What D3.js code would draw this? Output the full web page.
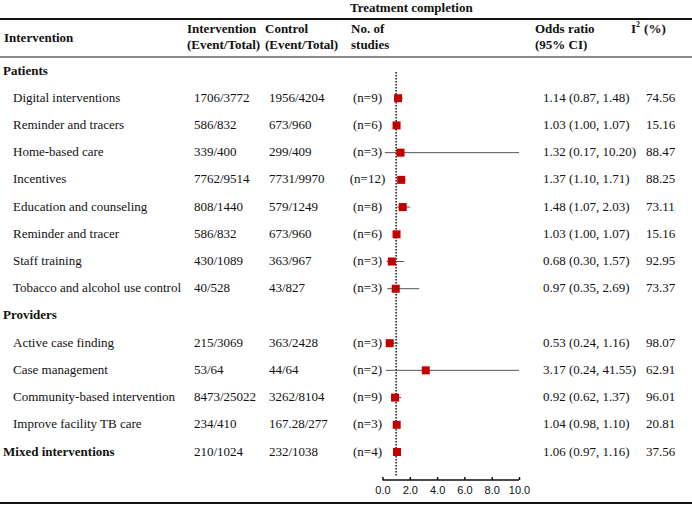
<!DOCTYPE html>
<html>
<head>
<meta charset="utf-8">
<script src="https://cdn.jsdelivr.net/npm/d3@7"></script>
<style>
  body { margin: 0; background: #fff; }
  svg text { font-family: "Liberation Serif", "Times New Roman", serif; font-size: 13px; fill: #111; }
  .bold { font-weight: bold; }
  .tick text { font-family: "Liberation Sans", Arial, sans-serif; font-size: 11px; }
</style>
</head>
<body>
<div id="chart"></div>
<script>
// Row data
var labels = ["Patients", "Digital interventions", "Reminder and tracers", "Home-based care", "Incentives",
  "Education and counseling", "Reminder and tracer", "Staff training", "Tobacco and alcohol use control",
  "Providers", "Active case finding", "Case management", "Community-based intervention",
  "Improve facility TB care", "Mixed interventions"]
// 0 = group heading, 1 = sub item, 2 = bold item with data
var rowType = [0, 1, 1, 1, 1, 1, 1, 1, 1, 0, 1, 1, 1, 1, 2]
var interventionEvents = ["", "1706/3772", "586/832", "339/400", "7762/9514", "808/1440", "586/832", "430/1089", "40/528",
  "", "215/3069", "53/64", "8473/25022", "234/410", "210/1024"]
var controlEvents = ["", "1956/4204", "673/960", "299/409", "7731/9970", "579/1249", "673/960", "363/967", "43/827",
  "", "363/2428", "44/64", "3262/8104", "167.28/277", "232/1038"]
var nStudies = [null, 9, 6, 3, 12, 8, 6, 3, 3, null, 3, 2, 9, 3, 4]
var oddsRatio = [null, 1.14, 1.03, 1.32, 1.37, 1.48, 1.03, 0.68, 0.97, null, 0.53, 3.17, 0.92, 1.04, 1.06]
var ciLow = [null, 0.87, 1.00, 0.17, 1.10, 1.07, 1.00, 0.30, 0.35, null, 0.24, 0.24, 0.62, 0.98, 0.97]
var ciHigh = [null, 1.48, 1.07, 10.20, 1.71, 2.03, 1.07, 1.57, 2.69, null, 1.16, 41.55, 1.37, 1.10, 1.16]
var iSquared = ["", "74.56", "15.16", "88.47", "88.25", "73.11", "15.16", "92.95", "73.37",
  "", "98.07", "62.91", "96.01", "20.81", "37.56"]
var axisTicks = [0, 2, 4, 6, 8, 10]

var width = 692, height = 506

var svg = d3.select("#chart").append("svg")
  .attr("width", width)
  .attr("height", height)

// Scales
var y = d3.scalePoint()
  .domain(d3.range(labels.length))
  .range([70, 451])

var x = d3.scaleLinear()
  .domain([0, 10])
  .range([382.5, 519])
  .clamp(true)

// Rules
svg.append("line").attr("x1", 0).attr("x2", width).attr("y1", 19).attr("y2", 19)
  .attr("stroke", "#111").attr("stroke-width", 2)
svg.append("line").attr("x1", 0).attr("x2", width).attr("y1", 57).attr("y2", 57)
  .attr("stroke", "#8a8a8a").attr("stroke-width", 2)
svg.append("line").attr("x1", 0).attr("x2", width).attr("y1", 503).attr("y2", 503)
  .attr("stroke", "#111").attr("stroke-width", 2)

// Headers
svg.append("text").attr("class", "bold").attr("x", 350).attr("y", 12).text("Treatment completion")
svg.append("text").attr("class", "bold").attr("x", 4).attr("y", 42).text("Intervention")

var headers = [
  {x: 187, lines: ["Intervention", "(Event/Total)"]},
  {x: 265, lines: ["Control", "(Event/Total)"]},
  {x: 351, lines: ["No. of", "studies"]},
  {x: 535, lines: ["Odds ratio", "(95% CI)"]}
]
headers.forEach(function(h) {
  h.lines.forEach(function(l, i) {
    svg.append("text").attr("class", "bold").attr("x", h.x).attr("y", 33 + i * 16).text(l)
  })
})
var i2 = svg.append("text").attr("class", "bold").attr("x", 631).attr("y", 33)
i2.append("tspan").text("I")
i2.append("tspan").attr("dy", -6).style("font-size", "8px").text("2")
i2.append("tspan").attr("dy", 6).attr("dx", 4).text("(%)")

// Rows
var rows = svg.append("g").selectAll("g")
  .data(d3.range(labels.length))
  .enter()
  .append("g")
  .attr("transform", function(i) { return "translate(0," + y(i) + ")" })

rows.append("text")
  .attr("x", function(i) { return rowType[i] == 1 ? 13 : 3 })
  .attr("dy", "0.35em")
  .attr("class", function(i) { return rowType[i] == 1 ? "" : "bold" })
  .text(function(i) { return labels[i] })

rows.append("text").attr("x", 194).attr("dy", "0.35em").text(function(i) { return interventionEvents[i] })
rows.append("text").attr("x", 269).attr("dy", "0.35em").text(function(i) { return controlEvents[i] })
rows.append("text").attr("x", 367.5).attr("dy", "0.35em").attr("text-anchor", "middle")
  .text(function(i) { return nStudies[i] == null ? "" : "(n=" + nStudies[i] + ")" })
rows.append("text").attr("x", 543).attr("dy", "0.35em")
  .text(function(i) {
    return oddsRatio[i] == null ? "" :
      oddsRatio[i].toFixed(2) + " (" + ciLow[i].toFixed(2) + ", " + ciHigh[i].toFixed(2) + ")"
  })
rows.append("text").attr("x", 646).attr("dy", "0.35em").text(function(i) { return iSquared[i] })

// Axis
var axis = svg.append("g")
  .attr("transform", "translate(0,480)")
  .call(d3.axisBottom(x).tickValues(axisTicks).tickFormat(d3.format(".1f")).tickSize(-3).tickPadding(6))
axis.select(".domain").attr("stroke", "#111").attr("stroke-width", 1.5).attr("d", "M" + x(0) + ",0H" + x(10))
axis.selectAll(".tick line").attr("stroke", "#111").attr("stroke-width", 1.5)
axis.selectAll(".tick text").attr("fill", "#111").attr("dy", "0.71em")

// Reference line at OR = 1
svg.append("line")
  .attr("x1", x(1)).attr("x2", x(1))
  .attr("y1", 72).attr("y2", 477)
  .attr("stroke", "#111").attr("stroke-width", 1.5)
  .attr("stroke-dasharray", "1.5,1.5")

// CI lines and markers
var plotRows = d3.range(labels.length).filter(function(i) { return oddsRatio[i] != null })
svg.append("g").selectAll("line")
  .data(plotRows)
  .enter()
  .append("line")
  .attr("x1", function(i) { return x(ciLow[i]) })
  .attr("x2", function(i) { return x(ciHigh[i]) })
  .attr("y1", function(i) { return y(i) + 1 })
  .attr("y2", function(i) { return y(i) + 1 })
  .attr("stroke", "#555")
  .attr("stroke-width", 1)

svg.append("g").selectAll("rect")
  .data(plotRows)
  .enter()
  .append("rect")
  .attr("x", function(i) { return x(oddsRatio[i]) - 4 })
  .attr("y", function(i) { return y(i) + 1 - 4 })
  .attr("width", 8)
  .attr("height", 8)
  .attr("fill", "#c20000")
</script>
</body>
</html>
